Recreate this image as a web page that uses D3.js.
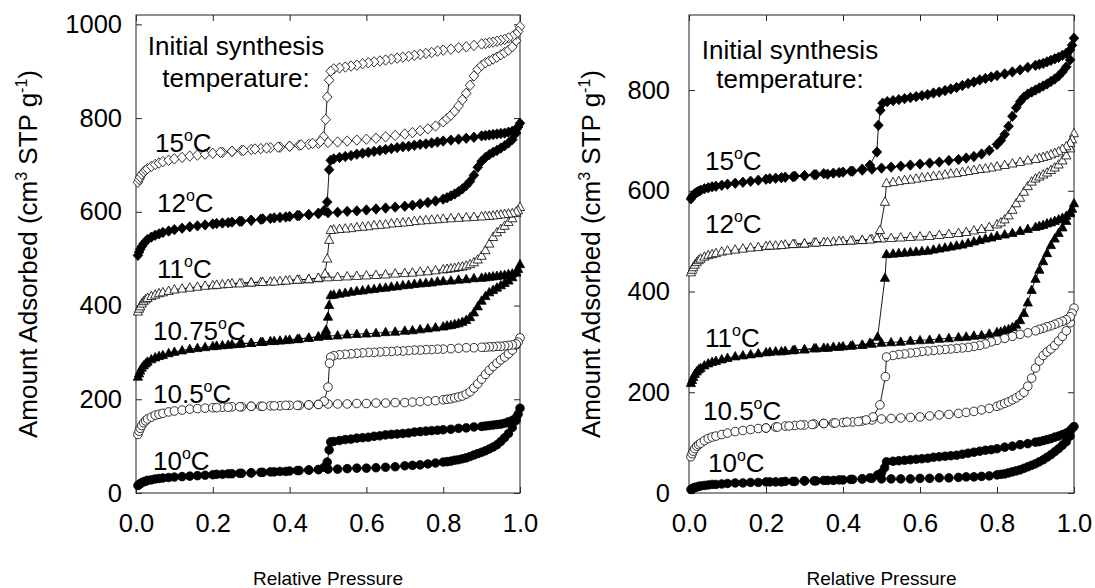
<!DOCTYPE html>
<html><head><meta charset="utf-8">
<script src="https://cdn.jsdelivr.net/npm/d3@7"></script>
<style>
body{margin:0;background:#fff}
svg{display:block}
text{font-family:"Liberation Sans",Arial,sans-serif;fill:#000}
</style>
</head><body>
<svg id="c" width="1095" height="588"></svg>
<script>
// ---------------- DATA ----------------
const xTicks = [0, 0.2, 0.4, 0.6, 0.8, 1.0];
const leftYTicks = [0, 200, 400, 600, 800, 1000];
const rightYTicks = [0, 200, 400, 600, 800];
const annotationLines = ["Initial synthesis", "temperature:"];
const leftTemps = ["15", "12", "11", "10.75", "10.5", "10"];
const rightTemps = ["15", "12", "11", "10.5", "10"];
const xTitle = "Relative Pressure";

// Left panel: [relative pressure, amount adsorbed (cm3 STP/g)]
const L15ads = [[0.005,663],[0.008,669],[0.011,674],[0.015,680],[0.02,685],[0.025,689],[0.03,692],[0.04,697],[0.05,701],[0.06,704],[0.07,707],[0.085,710],[0.1,713],[0.12,716],[0.14,719],[0.16,721],[0.18,723],[0.2,725],[0.225,727],[0.25,729],[0.275,731],[0.3,733],[0.325,735],[0.35,737],[0.375,738],[0.4,740],[0.425,742],[0.45,744],[0.475,746],[0.5,748],[0.525,749],[0.55,751],[0.575,753],[0.6,755],[0.625,757],[0.65,760],[0.675,763],[0.7,766],[0.72,769],[0.74,773],[0.76,777],[0.78,783],[0.8,792],[0.81,799],[0.82,806],[0.83,815],[0.84,826],[0.85,839],[0.86,853],[0.87,870],[0.88,890],[0.89,904],[0.9,912],[0.91,918],[0.92,922],[0.93,926],[0.94,930],[0.95,935],[0.96,940],[0.97,945],[0.98,952],[0.99,965]];
const L15des = [[1.0,995],[0.995,985],[0.99,979],[0.98,974],[0.97,971],[0.96,968],[0.95,966],[0.94,964],[0.93,962],[0.92,961],[0.91,959],[0.9,958],[0.88,955],[0.86,952],[0.84,950],[0.82,947],[0.8,945],[0.785,943],[0.77,940],[0.755,938],[0.74,936],[0.725,934],[0.71,932],[0.695,930],[0.68,928],[0.665,926],[0.65,924],[0.635,922],[0.62,920],[0.605,918],[0.59,916],[0.575,913],[0.56,911],[0.545,909],[0.53,907],[0.515,905],[0.507,900],[0.503,881],[0.498,845],[0.494,797],[0.488,760],[0.48,750],[0.46,746],[0.43,743],[0.4,740],[0.37,738],[0.34,736],[0.31,734],[0.28,731],[0.25,729],[0.22,727]];

const L12ads = [[0.005,507],[0.008,514],[0.011,520],[0.015,526],[0.02,532],[0.025,537],[0.03,541],[0.04,546],[0.05,550],[0.06,553],[0.07,556],[0.085,559],[0.1,562],[0.12,565],[0.14,568],[0.16,570],[0.18,572],[0.2,574],[0.225,576],[0.25,578],[0.275,580],[0.3,582],[0.325,584],[0.35,586],[0.375,588],[0.4,590],[0.425,592],[0.45,594],[0.475,596],[0.5,598],[0.525,599],[0.55,601],[0.575,602],[0.6,604],[0.625,606],[0.65,608],[0.675,610],[0.7,612],[0.72,614],[0.74,617],[0.76,620],[0.78,623],[0.8,627],[0.81,630],[0.82,634],[0.83,638],[0.84,643],[0.85,649],[0.86,656],[0.87,665],[0.88,678],[0.89,695],[0.9,708],[0.91,716],[0.92,722],[0.93,727],[0.94,731],[0.95,736],[0.96,741],[0.97,747],[0.98,754],[0.99,768]];
const L12des = [[1.0,789],[0.995,781],[0.99,776],[0.98,772],[0.97,770],[0.96,768],[0.95,767],[0.94,766],[0.93,765],[0.92,764],[0.91,763],[0.9,762],[0.88,759],[0.86,757],[0.84,755],[0.82,753],[0.8,751],[0.785,749],[0.77,747],[0.755,745],[0.74,744],[0.725,742],[0.71,740],[0.695,739],[0.68,737],[0.665,735],[0.65,733],[0.635,731],[0.62,729],[0.605,727],[0.59,725],[0.575,723],[0.56,720],[0.545,718],[0.53,716],[0.515,713],[0.507,710],[0.503,690],[0.498,621],[0.49,603],[0.475,597],[0.45,594],[0.42,592],[0.39,589],[0.36,587],[0.33,585],[0.3,582],[0.27,580],[0.24,577],[0.21,575]];

const L11ads = [[0.005,387],[0.008,393],[0.011,398],[0.015,404],[0.02,409],[0.025,413],[0.03,416],[0.04,420],[0.05,423],[0.06,426],[0.07,428],[0.085,431],[0.1,434],[0.12,436],[0.14,438],[0.16,440],[0.18,442],[0.2,443],[0.225,445],[0.25,447],[0.275,448],[0.3,449],[0.325,450],[0.35,451],[0.375,452],[0.4,454],[0.425,455],[0.45,456],[0.475,458],[0.5,460],[0.525,461],[0.55,462],[0.575,463],[0.6,464],[0.625,465],[0.65,466],[0.675,468],[0.7,469],[0.72,470],[0.74,472],[0.76,473],[0.78,475],[0.8,477],[0.81,478],[0.82,479],[0.83,480],[0.84,482],[0.85,483],[0.86,485],[0.87,488],[0.88,492],[0.89,498],[0.9,506],[0.91,518],[0.92,532],[0.93,546],[0.94,556],[0.95,563],[0.96,570],[0.97,578],[0.98,586],[0.99,597]];
const L11des = [[1.0,610],[0.995,603],[0.99,600],[0.98,597],[0.97,596],[0.96,595],[0.95,594],[0.94,593],[0.93,592],[0.92,591],[0.91,591],[0.9,590],[0.88,589],[0.86,588],[0.84,587],[0.82,586],[0.8,585],[0.785,584],[0.77,583],[0.755,582],[0.74,581],[0.725,580],[0.71,578],[0.695,577],[0.68,576],[0.665,575],[0.65,573],[0.635,572],[0.62,571],[0.605,569],[0.59,568],[0.575,567],[0.56,565],[0.545,564],[0.53,563],[0.515,562],[0.507,561],[0.503,540],[0.498,500],[0.492,468],[0.475,459],[0.45,456],[0.42,455],[0.39,453],[0.36,451],[0.33,450],[0.3,449],[0.27,447],[0.24,446],[0.21,444]];

const L1075ads = [[0.005,248],[0.008,255],[0.011,261],[0.015,267],[0.02,272],[0.025,276],[0.03,280],[0.04,285],[0.05,289],[0.06,292],[0.07,294],[0.085,298],[0.1,301],[0.12,304],[0.14,307],[0.16,309],[0.18,311],[0.2,313],[0.225,315],[0.25,317],[0.275,319],[0.3,320],[0.325,322],[0.35,324],[0.375,325],[0.4,327],[0.425,329],[0.45,331],[0.475,333],[0.5,335],[0.525,336],[0.55,338],[0.575,339],[0.6,340],[0.625,341],[0.65,343],[0.675,344],[0.7,346],[0.72,347],[0.74,349],[0.76,351],[0.78,353],[0.8,355],[0.81,357],[0.82,358],[0.83,360],[0.84,362],[0.85,365],[0.86,369],[0.87,375],[0.88,385],[0.89,398],[0.9,410],[0.91,420],[0.92,428],[0.93,433],[0.94,438],[0.95,443],[0.96,448],[0.97,453],[0.98,460],[0.99,470]];
const L1075des = [[1.0,488],[0.995,478],[0.99,472],[0.98,468],[0.97,467],[0.96,465],[0.95,464],[0.94,463],[0.93,462],[0.92,461],[0.91,460],[0.9,459],[0.88,458],[0.86,456],[0.84,455],[0.82,453],[0.8,452],[0.785,451],[0.77,449],[0.755,448],[0.74,447],[0.725,446],[0.71,444],[0.695,443],[0.68,441],[0.665,440],[0.65,438],[0.635,437],[0.62,435],[0.605,434],[0.59,432],[0.575,431],[0.56,429],[0.545,427],[0.53,425],[0.515,423],[0.507,422],[0.503,401],[0.5,376],[0.495,348],[0.488,336],[0.475,334],[0.45,331],[0.42,328],[0.39,326],[0.36,324],[0.33,322],[0.3,320],[0.27,318],[0.24,316],[0.21,314]];

const L105ads = [[0.005,125],[0.008,132],[0.011,138],[0.015,144],[0.02,150],[0.025,154],[0.03,158],[0.04,162],[0.05,166],[0.06,168],[0.07,170],[0.085,173],[0.1,175],[0.12,177],[0.14,179],[0.16,180],[0.18,181],[0.2,182],[0.225,183],[0.25,184],[0.275,184],[0.3,185],[0.325,185],[0.35,186],[0.375,186],[0.4,187],[0.425,187],[0.45,188],[0.475,189],[0.5,190],[0.525,190],[0.55,190],[0.575,191],[0.6,191],[0.625,192],[0.65,192],[0.675,193],[0.7,193],[0.72,194],[0.74,195],[0.76,196],[0.78,197],[0.8,199],[0.81,200],[0.82,201],[0.83,203],[0.84,205],[0.85,207],[0.86,211],[0.87,216],[0.88,224],[0.89,233],[0.9,243],[0.91,253],[0.92,262],[0.93,270],[0.94,277],[0.95,284],[0.96,290],[0.97,297],[0.98,305],[0.99,316]];
const L105des = [[1.0,331],[0.995,322],[0.99,318],[0.98,316],[0.97,315],[0.96,314],[0.95,313],[0.94,313],[0.93,312],[0.92,312],[0.91,311],[0.9,311],[0.88,310],[0.86,310],[0.84,309],[0.82,308],[0.8,307],[0.785,307],[0.77,306],[0.755,306],[0.74,305],[0.725,305],[0.71,304],[0.695,303],[0.68,303],[0.665,302],[0.65,302],[0.635,301],[0.62,300],[0.605,300],[0.59,299],[0.575,298],[0.56,297],[0.545,296],[0.53,295],[0.515,293],[0.507,290],[0.504,277],[0.5,226],[0.49,196],[0.475,189],[0.45,188],[0.42,187],[0.39,187],[0.36,186],[0.33,185],[0.3,185],[0.27,184],[0.24,183],[0.21,182]];

const L10ads = [[0.005,16],[0.008,18],[0.011,20],[0.015,22],[0.02,24],[0.025,25],[0.03,27],[0.04,28],[0.05,30],[0.06,31],[0.07,32],[0.085,33],[0.1,34],[0.12,35],[0.14,36],[0.16,37],[0.18,38],[0.2,39],[0.225,40],[0.25,41],[0.275,42],[0.3,43],[0.325,44],[0.35,45],[0.375,46],[0.4,47],[0.425,48],[0.45,49],[0.475,50],[0.5,51],[0.525,51],[0.55,52],[0.575,53],[0.6,53],[0.625,54],[0.65,55],[0.675,56],[0.7,58],[0.72,59],[0.74,60],[0.76,62],[0.78,64],[0.8,66],[0.81,67],[0.82,68],[0.83,70],[0.84,71],[0.85,73],[0.86,75],[0.87,78],[0.88,81],[0.89,84],[0.9,87],[0.91,90],[0.92,94],[0.93,98],[0.94,103],[0.95,110],[0.96,118],[0.97,127],[0.98,140],[0.99,155]];
const L10des = [[1.0,181],[0.995,168],[0.99,161],[0.98,155],[0.97,152],[0.96,149],[0.95,147],[0.94,146],[0.93,145],[0.92,144],[0.91,143],[0.9,142],[0.88,141],[0.86,139],[0.84,138],[0.82,136],[0.8,135],[0.785,134],[0.77,133],[0.755,132],[0.74,131],[0.725,130],[0.71,128],[0.695,127],[0.68,126],[0.665,125],[0.65,124],[0.635,122],[0.62,121],[0.605,119],[0.59,118],[0.575,117],[0.56,115],[0.545,114],[0.53,112],[0.515,110],[0.507,109],[0.503,92],[0.498,66],[0.49,55],[0.475,50],[0.45,49],[0.42,48],[0.39,46],[0.36,45],[0.33,44],[0.3,43],[0.27,42],[0.24,41],[0.21,40]];

// Right panel
const R15ads = [[0.005,584],[0.008,588],[0.011,591],[0.015,594],[0.02,597],[0.025,599],[0.03,601],[0.04,604],[0.05,606],[0.06,608],[0.07,609],[0.085,611],[0.1,613],[0.12,615],[0.14,617],[0.16,619],[0.18,621],[0.2,623],[0.225,625],[0.25,627],[0.275,629],[0.3,630],[0.325,632],[0.35,634],[0.375,635],[0.4,637],[0.425,639],[0.45,641],[0.475,643],[0.5,645],[0.525,647],[0.55,649],[0.575,651],[0.6,653],[0.625,655],[0.65,657],[0.675,660],[0.7,662],[0.72,665],[0.74,668],[0.76,673],[0.78,680],[0.8,692],[0.81,700],[0.82,712],[0.83,728],[0.84,748],[0.85,765],[0.86,777],[0.87,786],[0.88,792],[0.89,796],[0.9,800],[0.91,804],[0.92,808],[0.93,812],[0.94,817],[0.95,822],[0.96,828],[0.97,836],[0.98,846],[0.99,860]];
const R15des = [[1.0,903],[0.995,889],[0.99,880],[0.98,873],[0.97,869],[0.96,865],[0.95,862],[0.94,859],[0.93,856],[0.92,853],[0.91,851],[0.9,849],[0.88,845],[0.86,840],[0.84,836],[0.82,832],[0.8,829],[0.785,826],[0.77,823],[0.755,820],[0.74,816],[0.725,813],[0.71,809],[0.695,805],[0.68,802],[0.665,799],[0.65,796],[0.635,794],[0.62,791],[0.605,789],[0.59,787],[0.575,785],[0.56,783],[0.545,781],[0.53,779],[0.515,777],[0.503,774],[0.497,760],[0.492,730],[0.488,677],[0.47,651],[0.45,643],[0.42,639],[0.39,636],[0.36,633],[0.33,632],[0.3,630],[0.27,628],[0.24,626],[0.21,624]];

const R12ads = [[0.005,438],[0.008,443],[0.011,448],[0.015,453],[0.02,458],[0.025,462],[0.03,465],[0.04,469],[0.05,472],[0.06,474],[0.07,476],[0.085,479],[0.1,481],[0.12,483],[0.14,485],[0.16,487],[0.18,488],[0.2,490],[0.225,491],[0.25,493],[0.275,494],[0.3,495],[0.325,497],[0.35,498],[0.375,499],[0.4,500],[0.425,501],[0.45,502],[0.475,504],[0.5,505],[0.525,506],[0.55,507],[0.575,508],[0.6,509],[0.625,510],[0.65,512],[0.675,514],[0.7,516],[0.72,518],[0.74,521],[0.76,524],[0.78,528],[0.8,533],[0.81,537],[0.82,543],[0.83,551],[0.84,562],[0.85,575],[0.86,586],[0.87,598],[0.88,609],[0.89,618],[0.9,624],[0.91,628],[0.92,632],[0.93,636],[0.94,641],[0.95,646],[0.96,652],[0.97,660],[0.98,670],[0.99,684]];
const R12des = [[1.0,714],[0.995,702],[0.99,695],[0.98,688],[0.97,683],[0.96,678],[0.95,675],[0.94,672],[0.93,669],[0.92,667],[0.91,665],[0.9,663],[0.88,660],[0.86,657],[0.84,654],[0.82,651],[0.8,648],[0.785,646],[0.77,644],[0.755,643],[0.74,641],[0.725,639],[0.71,637],[0.695,635],[0.68,634],[0.665,632],[0.65,630],[0.635,629],[0.62,627],[0.605,626],[0.59,624],[0.575,622],[0.56,621],[0.545,619],[0.53,617],[0.513,615],[0.509,578],[0.496,522],[0.488,506],[0.47,503],[0.45,502],[0.42,501],[0.39,500],[0.36,498],[0.33,497],[0.3,495],[0.27,494],[0.24,492],[0.21,491]];

const R11ads = [[0.005,218],[0.008,224],[0.011,230],[0.015,236],[0.02,241],[0.025,245],[0.03,248],[0.04,253],[0.05,257],[0.06,260],[0.07,262],[0.085,265],[0.1,268],[0.12,271],[0.14,273],[0.16,275],[0.18,277],[0.2,279],[0.225,281],[0.25,282],[0.275,284],[0.3,285],[0.325,287],[0.35,288],[0.375,290],[0.4,291],[0.425,293],[0.45,294],[0.475,296],[0.5,298],[0.525,299],[0.55,300],[0.575,302],[0.6,303],[0.625,304],[0.65,306],[0.675,307],[0.7,309],[0.72,310],[0.74,312],[0.76,313],[0.78,316],[0.8,319],[0.81,320],[0.82,323],[0.83,325],[0.84,329],[0.85,334],[0.86,343],[0.87,357],[0.88,378],[0.89,403],[0.9,425],[0.91,443],[0.92,460],[0.93,476],[0.94,492],[0.95,505],[0.96,516],[0.97,527],[0.98,540],[0.99,555]];
const R11des = [[1.0,575],[0.995,564],[0.99,557],[0.98,550],[0.97,546],[0.96,543],[0.95,540],[0.94,537],[0.93,535],[0.92,532],[0.91,530],[0.9,528],[0.88,524],[0.86,520],[0.84,516],[0.82,513],[0.8,510],[0.785,507],[0.77,505],[0.755,502],[0.74,499],[0.725,496],[0.71,493],[0.695,491],[0.68,489],[0.665,487],[0.65,485],[0.635,483],[0.62,481],[0.605,480],[0.59,479],[0.575,478],[0.56,477],[0.545,476],[0.53,475],[0.513,474],[0.509,427],[0.49,310],[0.47,298],[0.45,294],[0.42,292],[0.39,290],[0.36,288],[0.33,287],[0.3,285],[0.27,283],[0.24,281],[0.21,280]];

const R105ads = [[0.005,72],[0.008,78],[0.011,83],[0.015,88],[0.02,93],[0.025,96],[0.03,99],[0.04,104],[0.05,108],[0.06,111],[0.07,113],[0.085,116],[0.1,119],[0.12,122],[0.14,124],[0.16,126],[0.18,128],[0.2,129],[0.225,131],[0.25,133],[0.275,134],[0.3,135],[0.325,137],[0.35,138],[0.375,139],[0.4,140],[0.425,141],[0.45,143],[0.475,145],[0.5,147],[0.525,148],[0.55,149],[0.575,150],[0.6,151],[0.625,153],[0.65,155],[0.675,156],[0.7,158],[0.72,160],[0.74,162],[0.76,165],[0.78,168],[0.8,172],[0.81,175],[0.82,178],[0.83,181],[0.84,185],[0.85,189],[0.86,194],[0.87,200],[0.88,212],[0.89,228],[0.9,248],[0.91,262],[0.92,273],[0.93,280],[0.94,286],[0.95,293],[0.96,302],[0.97,311],[0.98,322],[0.99,338]];
const R105des = [[1.0,367],[0.995,357],[0.99,350],[0.98,344],[0.97,341],[0.96,338],[0.95,335],[0.94,332],[0.93,330],[0.92,327],[0.91,325],[0.9,322],[0.88,318],[0.86,315],[0.84,311],[0.82,307],[0.8,303],[0.785,300],[0.77,296],[0.755,293],[0.74,291],[0.725,289],[0.71,288],[0.695,287],[0.68,286],[0.665,285],[0.65,284],[0.635,283],[0.62,282],[0.605,281],[0.59,279],[0.575,278],[0.56,276],[0.545,275],[0.53,273],[0.513,270],[0.51,231],[0.496,175],[0.478,151],[0.46,145],[0.44,142],[0.41,141],[0.38,139],[0.35,138],[0.32,136],[0.29,135],[0.26,133],[0.23,131],[0.2,129]];

const R10ads = [[0.005,7],[0.008,8],[0.011,10],[0.015,11],[0.02,12],[0.025,13],[0.03,14],[0.04,15],[0.05,16],[0.06,17],[0.07,17],[0.085,18],[0.1,19],[0.12,20],[0.14,20],[0.16,21],[0.18,21],[0.2,22],[0.225,22],[0.25,23],[0.275,23],[0.3,24],[0.325,24],[0.35,25],[0.375,25],[0.4,26],[0.425,27],[0.45,28],[0.475,29],[0.5,28],[0.525,28],[0.55,28],[0.575,28],[0.6,29],[0.625,29],[0.65,30],[0.675,30],[0.7,31],[0.72,32],[0.74,32],[0.76,33],[0.78,34],[0.8,36],[0.81,37],[0.82,38],[0.83,40],[0.84,42],[0.85,44],[0.86,46],[0.87,49],[0.88,52],[0.89,55],[0.9,58],[0.91,62],[0.92,66],[0.93,71],[0.94,76],[0.95,82],[0.96,88],[0.97,95],[0.98,102],[0.99,113]];
const R10des = [[1.0,132],[0.995,128],[0.99,124],[0.98,119],[0.97,116],[0.96,113],[0.95,111],[0.94,108],[0.93,106],[0.92,104],[0.91,102],[0.9,101],[0.88,98],[0.86,96],[0.84,93],[0.82,91],[0.8,88],[0.785,86],[0.77,85],[0.755,83],[0.74,81],[0.725,79],[0.71,77],[0.695,75],[0.68,74],[0.665,73],[0.65,72],[0.635,71],[0.62,69],[0.605,68],[0.59,67],[0.575,66],[0.56,65],[0.545,64],[0.53,63],[0.513,62],[0.508,50],[0.5,40],[0.49,36],[0.47,30],[0.45,28],[0.42,27],[0.39,26],[0.36,25],[0.33,24],[0.3,24],[0.27,23],[0.24,22],[0.21,22]];

// ---------------- LAYOUT / STYLE ----------------
const svg = d3.select("#c");
const TICK_FONT = 25.5;

const markerPaths = {
  diamond: "M0,-5.2L4.8,0L0,5.2L-4.8,0Z",
  triangle: "M0,-5L4.6,3.4L-4.6,3.4Z",
  circle: d3.symbol(d3.symbolCircle, 58)()
};

const panels = [
  {
    left: 136, right: 520, top: 15, bottom: 493, yMax: 1020, yTicks: leftYTicks, yPad: 14,
    yTitleX: 37, xTitleY: 585,
    annoCx: 236, annoY: [55, 87],
    series: [
      {ads: L15ads, des: L15des, shape: "diamond", filled: false},
      {ads: L12ads, des: L12des, shape: "diamond", filled: true},
      {ads: L11ads, des: L11des, shape: "triangle", filled: false},
      {ads: L1075ads, des: L1075des, shape: "triangle", filled: true},
      {ads: L105ads, des: L105des, shape: "circle", filled: false},
      {ads: L10ads, des: L10des, shape: "circle", filled: true}
    ],
    labels: leftTemps,
    labelPos: [[155,152],[157,212],[157,278],[153,340],[153,403],[153,470]]
  },
  {
    left: 689, right: 1074, top: 15, bottom: 493, yMax: 949, yTicks: rightYTicks, yPad: 19,
    yTitleX: 600, xTitleY: 585,
    annoCx: 790, annoY: [59, 88],
    series: [
      {ads: R15ads, des: R15des, shape: "diamond", filled: true},
      {ads: R12ads, des: R12des, shape: "triangle", filled: false},
      {ads: R11ads, des: R11des, shape: "triangle", filled: true},
      {ads: R105ads, des: R105des, shape: "circle", filled: false},
      {ads: R10ads, des: R10des, shape: "circle", filled: true}
    ],
    labels: rightTemps,
    labelPos: [[705,170],[705,233],[705,347],[703,420],[708,472]]
  }
];

panels.forEach(p => {
  const x = d3.scaleLinear().domain([0, 1]).range([p.left, p.right]);
  const y = d3.scaleLinear().domain([0, p.yMax]).range([p.bottom, p.top]);
  const g = svg.append("g");

  // axes
  const ax = g.append("g").attr("class", "axes");
  ax.append("g").attr("transform", `translate(0,${p.bottom})`)
    .call(d3.axisBottom(x).tickValues(xTicks).tickFormat(d3.format(".1f")).tickSizeInner(-6).tickSizeOuter(0).tickPadding(21));
  ax.append("g").attr("transform", `translate(0,${p.top})`)
    .call(d3.axisTop(x).tickValues(xTicks).tickFormat("").tickSizeInner(-6).tickSizeOuter(0));
  ax.append("g").attr("transform", `translate(${p.left},0)`)
    .call(d3.axisLeft(y).tickValues(p.yTicks).tickFormat(d3.format("d")).tickSizeInner(-6).tickSizeOuter(0).tickPadding(p.yPad));
  ax.append("g").attr("transform", `translate(${p.right},0)`)
    .call(d3.axisRight(y).tickValues(p.yTicks).tickFormat("").tickSizeInner(-6).tickSizeOuter(0));
  ax.selectAll(".domain").remove();
  ax.selectAll(".tick line").attr("stroke", "#222").attr("stroke-width", 1);
  ax.selectAll(".tick text").attr("font-size", TICK_FONT).attr("font-family", '"Liberation Sans",Arial,sans-serif').attr("fill", "#000");
  g.append("rect").attr("x", p.left).attr("y", p.top)
    .attr("width", p.right - p.left).attr("height", p.bottom - p.top)
    .attr("fill", "none").attr("stroke", "#333").attr("stroke-width", 1.1);

  // series
  const line = d3.line().x(d => x(d[0])).y(d => y(d[1]));
  p.series.forEach(s => {
    const pts = s.ads.concat(s.des);
    g.append("path").attr("d", line(pts)).attr("fill", "none").attr("stroke", "#000").attr("stroke-width", 0.9);
    g.append("g").selectAll("path").data(pts).join("path")
      .attr("d", markerPaths[s.shape])
      .attr("transform", d => `translate(${x(d[0])},${y(d[1])})`)
      .attr("fill", s.filled ? "#000" : "#fff")
      .attr("stroke", "#000").attr("stroke-width", 0.8);
  });

  // annotation
  const an = g.append("text").attr("text-anchor", "middle").attr("font-size", 26);
  annotationLines.forEach((t, i) => {
    an.append("tspan").attr("x", p.annoCx).attr("y", p.annoY[i]).text(t);
  });

  // temperature labels
  p.labels.forEach((t, i) => {
    const tx = g.append("text").attr("x", p.labelPos[i][0]).attr("y", p.labelPos[i][1]).attr("font-size", 26);
    tx.append("tspan").text(t);
    tx.append("tspan").attr("font-size", 16).attr("dy", -11).text("o");
    tx.append("tspan").attr("dy", 11).text("C");
  });

  // axis titles
  g.append("text").attr("x", (p.left + p.right) / 2).attr("y", p.xTitleY)
    .attr("text-anchor", "middle").attr("font-size", 19).text(xTitle);
  const yt = g.append("text")
    .attr("transform", `translate(${p.yTitleX},${(p.top + p.bottom) / 2}) rotate(-90)`)
    .attr("text-anchor", "middle").attr("font-size", 26);
  yt.append("tspan").text("Amount Adsorbed (cm");
  yt.append("tspan").attr("font-size", 16).attr("dy", -10).text("3");
  yt.append("tspan").attr("dy", 10).text(" STP g");
  yt.append("tspan").attr("font-size", 16).attr("dy", -10).text("-1");
  yt.append("tspan").attr("dy", 10).text(")");
});
</script>
</body></html>
